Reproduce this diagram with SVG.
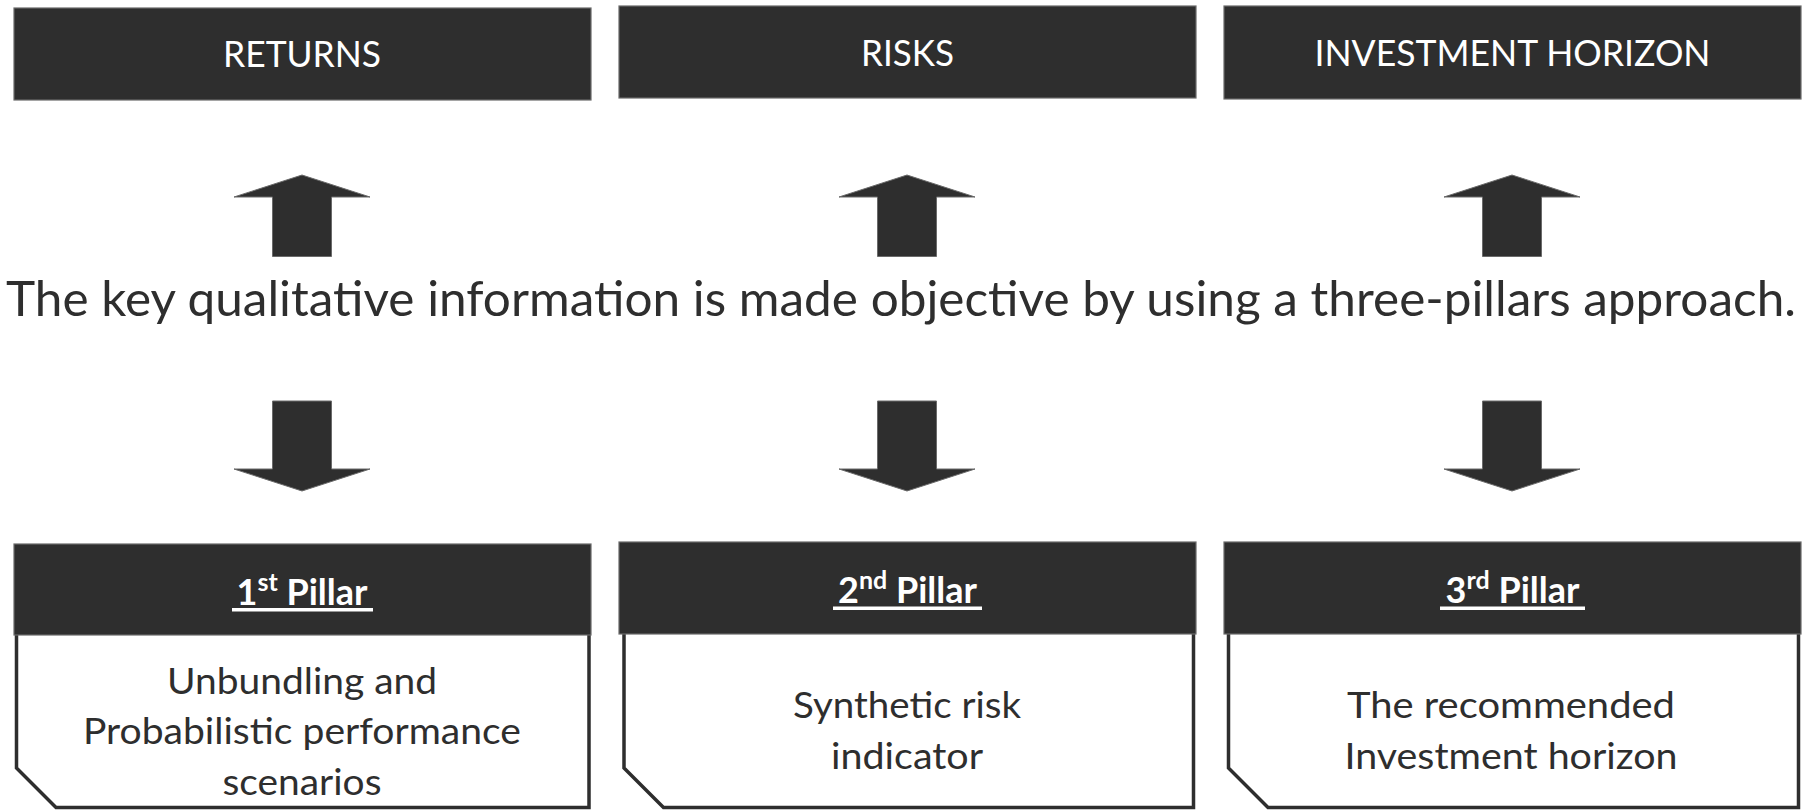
<svg xmlns="http://www.w3.org/2000/svg" width="1803" height="810" viewBox="0 0 1803 810">
<style>
  .hdr { fill: #2e2e2e; stroke: #6a6a6a; stroke-width: 1.2; }
  .body { fill: #ffffff; stroke: #2e2e2e; stroke-width: 3.5; stroke-linejoin: miter; }
  .arrow { fill: #2e2e2e; stroke: #6a6a6a; stroke-width: 1; }
  .lbl { font-family: Lato, "Open Sans", sans-serif; font-size: 37px; fill: #ffffff; text-anchor: middle; }
  .ph { font-family: Lato, "Open Sans", sans-serif; font-size: 36px; font-weight: bold; fill: #ffffff; text-anchor: middle; }
  .bt { font-family: Lato, "Open Sans", sans-serif; font-size: 37px; fill: #2e2e2e; text-anchor: middle; }
  .main { font-family: Lato, "Open Sans", sans-serif; font-size: 48.5px; fill: #2e2e2e; text-anchor: middle; }
  .ul { fill: #ffffff; }
</style>

<g id="returns">
  <rect class="hdr" x="14" y="8" width="577" height="92"/>
  <text class="lbl" x="302" y="67" textLength="158" lengthAdjust="spacingAndGlyphs">RETURNS</text>
</g>
<g id="risks">
  <rect class="hdr" x="619" y="6" width="577" height="92"/>
  <text class="lbl" x="907.5" y="65.5" textLength="93" lengthAdjust="spacingAndGlyphs">RISKS</text>
</g>
<g id="investment-horizon">
  <rect class="hdr" x="1224" y="6" width="577" height="93"/>
  <text class="lbl" x="1512.5" y="65.5" textLength="396" lengthAdjust="spacingAndGlyphs">INVESTMENT HORIZON</text>
</g>

<g id="statement">
  <text class="main" x="901" y="316" textLength="1790" lengthAdjust="spacingAndGlyphs">The key qualitative information is made objective by using a three-pillars approach.</text>
</g>

<g id="connectors">
  <polygon class="arrow" points="302,175 370,197 331.5,197 331.5,256.5 272.5,256.5 272.5,197 234,197"/>
  <polygon class="arrow" points="907,175 975,197 936.5,197 936.5,256.5 877.5,256.5 877.5,197 839,197"/>
  <polygon class="arrow" points="1512,175 1580,197 1541.5,197 1541.5,256.5 1482.5,256.5 1482.5,197 1444,197"/>
  <polygon class="arrow" points="272.5,401 331.5,401 331.5,469 370,469 302,491 234,469 272.5,469"/>
  <polygon class="arrow" points="877.5,401 936.5,401 936.5,469 975,469 907,491 839,469 877.5,469"/>
  <polygon class="arrow" points="1482.5,401 1541.5,401 1541.5,469 1580,469 1512,491 1444,469 1482.5,469"/>
</g>

<g id="pillar1">
  <path class="body" d="M16.5,634 L16.5,768 L56,807.5 L589,807.5 L589,634"/>
  <rect class="hdr" x="14" y="544" width="577" height="91"/>
  <text class="ph" x="302" y="605">1<tspan font-size="25" dy="-14">st</tspan><tspan dy="14"> Pillar</tspan></text>
  <rect class="ul" x="232" y="608" width="141" height="3.5"/>
  <text class="bt" x="302" y="694" textLength="270" lengthAdjust="spacingAndGlyphs">Unbundling and</text>
  <text class="bt" x="302" y="744" textLength="438" lengthAdjust="spacingAndGlyphs">Probabilistic performance</text>
  <text class="bt" x="302" y="795" textLength="159" lengthAdjust="spacingAndGlyphs">scenarios</text>
</g>

<g id="pillar2">
  <path class="body" d="M624,633 L624,768 L663.5,807.5 L1193.5,807.5 L1193.5,633"/>
  <rect class="hdr" x="619" y="542" width="577" height="92"/>
  <text class="ph" x="907.5" y="603">2<tspan font-size="25" dy="-14">nd</tspan><tspan dy="14"> Pillar</tspan></text>
  <rect class="ul" x="833" y="606.5" width="149" height="3.5"/>
  <text class="bt" x="907" y="718" textLength="228" lengthAdjust="spacingAndGlyphs">Synthetic risk</text>
  <text class="bt" x="907" y="769" textLength="152" lengthAdjust="spacingAndGlyphs">indicator</text>
</g>

<g id="pillar3">
  <path class="body" d="M1228.5,633 L1228.5,768 L1268,807.5 L1798.5,807.5 L1798.5,633"/>
  <rect class="hdr" x="1224" y="542" width="577" height="92"/>
  <text class="ph" x="1512.5" y="603">3<tspan font-size="25" dy="-14">rd</tspan><tspan dy="14"> Pillar</tspan></text>
  <rect class="ul" x="1440" y="606.5" width="145" height="3.5"/>
  <text class="bt" x="1511" y="718" textLength="328" lengthAdjust="spacingAndGlyphs">The recommended</text>
  <text class="bt" x="1511" y="769" textLength="333" lengthAdjust="spacingAndGlyphs">Investment horizon</text>
</g>
</svg>
